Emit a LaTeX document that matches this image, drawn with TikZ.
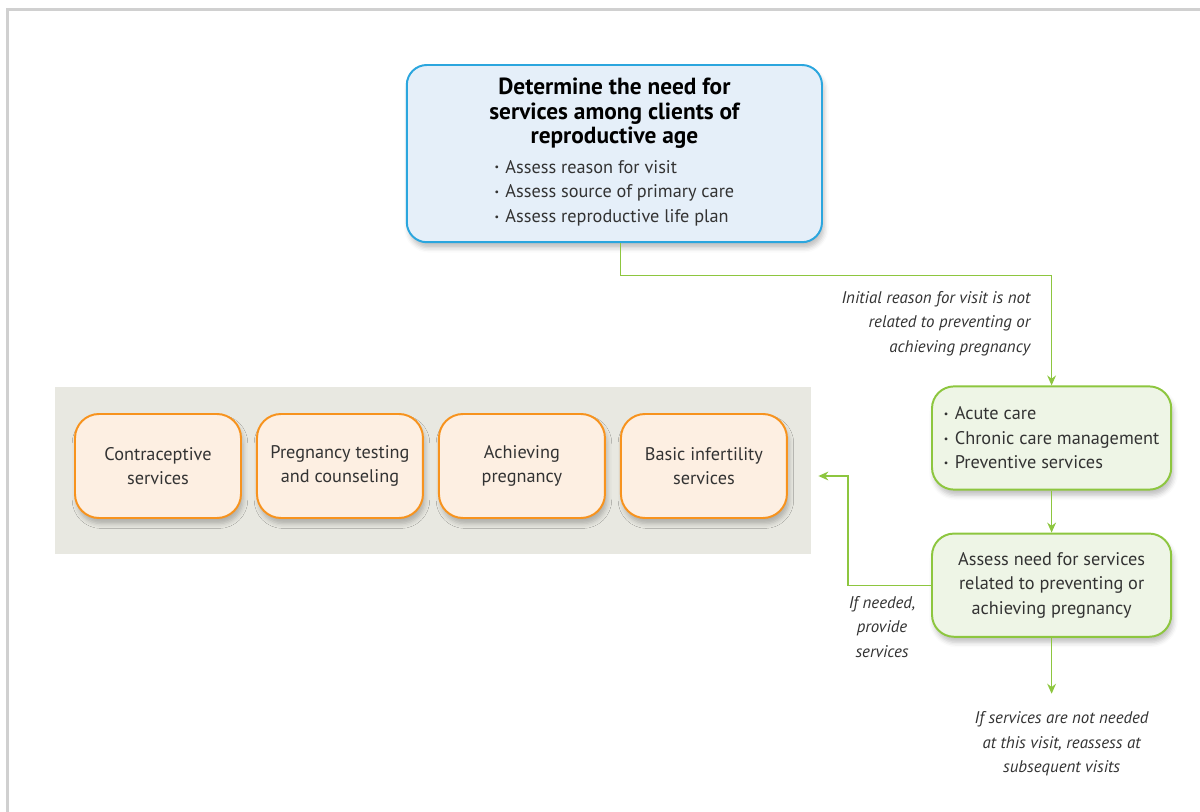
\documentclass[tikz,border=0pt]{standalone}
\usepackage{fontspec}
\setmainfont{PT Sans}
\usetikzlibrary{arrows.meta,positioning,fit,backgrounds,shadows.blur}

\definecolor{needblue}{HTML}{2BA6DE}
\definecolor{needfill}{HTML}{E5EFF9}
\definecolor{caregreen}{HTML}{8DC63F}
\definecolor{carefill}{HTML}{EEF5E6}
\definecolor{svcorange}{HTML}{F7931E}
\definecolor{svcfill}{HTML}{FDEFE2}
\definecolor{panelgray}{HTML}{E8E8E1}
\definecolor{framegray}{HTML}{D0D0D0}
\definecolor{textgray}{HTML}{333333}

\newcommand{\bul}{\raisebox{0.25ex}{\scalebox{0.55}{\textbullet}}\hspace{0.16cm}}

\begin{document}
\begin{tikzpicture}[
    font=\fontsize{13}{17.5}\selectfont,
    text=textgray,
    >={Stealth[length=0.25cm,width=0.22cm]},
    % Styles
    softshadow/.style={blur shadow={shadow xshift=0.05cm, shadow yshift=-0.14cm, shadow blur radius=0.12cm, shadow opacity=25}},
    intake/.style={rectangle, rounded corners=0.5cm, draw=needblue, fill=needfill, line width=1.4pt, minimum width=10.38cm, minimum height=4.43cm, align=center, softshadow},
    care/.style={rectangle, rounded corners=0.55cm, draw=caregreen, fill=carefill, line width=1.4pt, minimum width=5.98cm, minimum height=2.58cm, softshadow},
    service/.style={rectangle, rounded corners=0.6cm, draw=svcorange, fill=svcfill, line width=1.4pt, minimum width=4.15cm, minimum height=2.6cm, align=center, softshadow},
    panel/.style={rectangle, fill=panelgray, inner xsep=0.525cm, inner ysep=0.76cm},
    note/.style={font=\fontsize{12}{17.3}\selectfont\itshape, align=center},
    arrow/.style={->, line width=0.9pt, draw=caregreen},
    frame/.style={draw=framegray, line width=1.6pt}
]
\useasboundingbox (0,0) rectangle (30,-20.3);
\draw[frame] (0.19,-20.3) |- (30,-0.24);

% --- Intake ---
\node[intake] (need) at (15.36,-3.84) {%
    \begin{tabular}{@{}c@{}}\color{black}\fontsize{16.6}{17.2}\selectfont\bfseries Determine the need for\\
    \color{black}\fontsize{16.6}{17.2}\selectfont\bfseries services among clients of\\
    \color{black}\fontsize{16.6}{17.2}\selectfont\bfseries reproductive age\end{tabular}\\[0.08cm]
    \begin{tabular}{@{}l@{}}\fontsize{13}{17.8}\selectfont\bul Assess reason for visit\\
    \fontsize{13}{17.8}\selectfont\bul Assess source of primary care\\
    \fontsize{13}{17.8}\selectfont\bul Assess reproductive life plan\end{tabular}};

% --- Right branch ---
\node[care, align=left] (care) at (26.29,-10.95) {\bul Acute care\\\bul Chronic care management\\\bul Preventive services};
\node[care, align=center, below=1.05cm of care] (assess) {Assess need for services\\related to preventing or\\achieving pregnancy};
\node[note, below=1.73cm of assess, xshift=0.25cm] (reassess) {If services are not needed\\at this visit, reassess at\\subsequent visits};

% --- Services ---
\node[service] (contra) at (3.95,-11.65) {Contraceptive\\services};
\node[service, right=0.35cm of contra] (testing) {Pregnancy testing\\and counseling};
\node[service, right=0.35cm of testing] (achieve) {Achieving\\pregnancy};
\node[service, right=0.35cm of achieve] (infert) {Basic infertility\\services};

\begin{scope}[on background layer]
    \node[panel, fit=(contra) (infert), xshift=0.05cm, yshift=-0.11cm] (panel) {};
\end{scope}

% --- Connections ---
\draw[arrow] ([xshift=0.16cm]need.south) -- ++(0,-0.8) -| node[pos=0.72, left=0.4cm, note, align=right] {Initial reason for visit is not\\related to preventing or\\achieving pregnancy} (care.north);
\draw[arrow] (care) -- (assess);
\draw[arrow] (assess.west) -- node[pos=0.59, below=0.15cm, note] {If needed,\\provide\\services} ++(-2.075,0) |- ([xshift=0.18cm,yshift=-0.14cm]panel.east);
\draw[arrow] (assess.south) -- ([yshift=0.33cm]assess.south |- reassess.north);

\end{tikzpicture}
\end{document}
